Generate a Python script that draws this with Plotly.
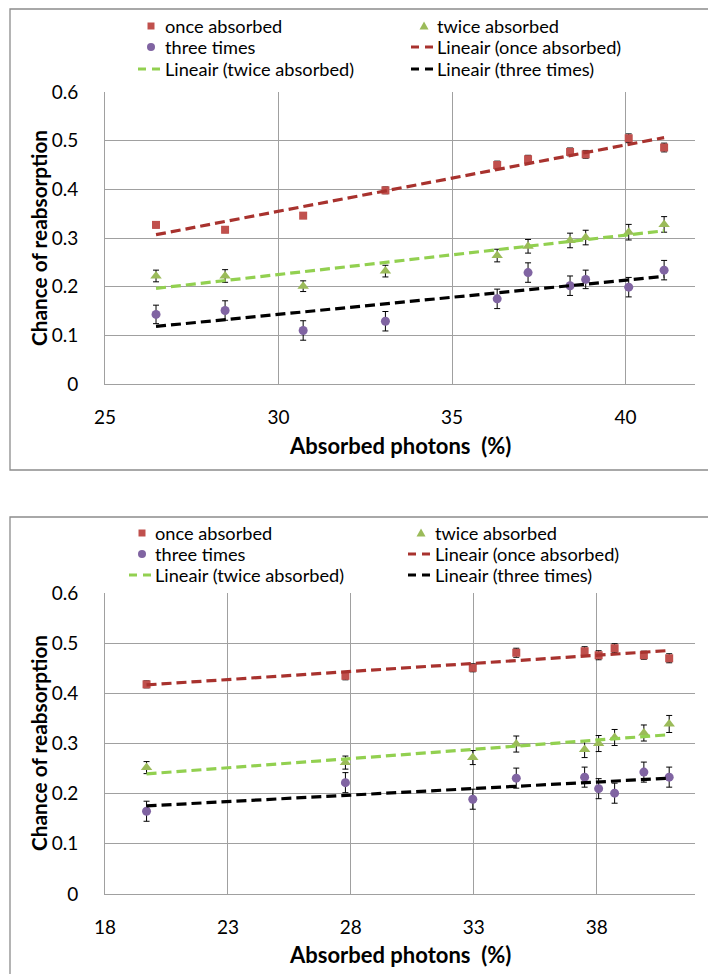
import numpy as np
import plotly.graph_objects as go

W, H = 708, 974

# ---- upper panel ----
x_top = [26.47, 28.46, 30.71, 33.08, 36.30, 37.19, 38.40, 38.85, 40.09, 41.11]
once_top = [0.327, 0.317, 0.346, 0.398, 0.450, 0.462, 0.477, 0.472, 0.505, 0.486]
once_top_err = [0.006, 0.006, 0.006, 0.007, 0.008, 0.008, 0.008, 0.008, 0.009, 0.009]
twice_top = [0.222, 0.222, 0.201, 0.232, 0.264, 0.283, 0.295, 0.301, 0.312, 0.328]
twice_top_err = [0.012, 0.013, 0.011, 0.012, 0.013, 0.014, 0.015, 0.015, 0.016, 0.016]
three_top = [0.143, 0.151, 0.110, 0.129, 0.175, 0.229, 0.202, 0.215, 0.199, 0.234]
three_top_err = [0.019, 0.020, 0.020, 0.020, 0.020, 0.020, 0.020, 0.019, 0.020, 0.020]

# ---- lower panel ----
x_bot = [19.69, 27.78, 32.96, 34.73, 37.51, 38.08, 38.73, 39.92, 40.95]
once_bot = [0.418, 0.435, 0.451, 0.481, 0.484, 0.476, 0.490, 0.476, 0.470]
once_bot_err = [0.007, 0.008, 0.008, 0.009, 0.009, 0.009, 0.009, 0.008, 0.009]
twice_bot = [0.252, 0.262, 0.272, 0.299, 0.288, 0.300, 0.312, 0.321, 0.339]
twice_bot_err = [0.012, 0.013, 0.014, 0.016, 0.016, 0.016, 0.016, 0.016, 0.017]
three_bot = [0.165, 0.222, 0.189, 0.231, 0.233, 0.210, 0.201, 0.243, 0.233]
three_bot_err = [0.020, 0.020, 0.020, 0.020, 0.020, 0.020, 0.020, 0.020, 0.020]

series_names = ["once absorbed", "twice absorbed", "three times"]
trend_names = ["Lineair (once absorbed)", "Lineair (twice absorbed)", "Lineair (three times)"]
marker_colors = ["#C0504D", "#9BBB59", "#8064A2"]
trend_colors = ["#A8322E", "#92D050", "#000000"]
symbols = ["square", "triangle-up", "circle"]
sizes = [8, 10, 9]

FONT = "Lato, 'Open Sans', sans-serif"
LEG_FS = 18.2
TICK_FS = 19
GRID = "#a0a0a0"


def px_x(p):
    return p / W


def px_y(p):
    return 1 - p / H


fig = go.Figure()


def add_panel(xs, ys_list, errs_list, xa, ya):
    for name, ys, errs, col, sym, sz in zip(series_names, ys_list, errs_list,
                                            marker_colors, symbols, sizes):
        fig.add_trace(go.Scatter(
            x=xs, y=ys, mode="markers", name=name, showlegend=False,
            marker=dict(symbol=sym, size=sz, color=col, line=dict(width=0)),
            error_y=dict(type="data", array=errs, color="black",
                         thickness=1, width=3),
            xaxis=xa, yaxis=ya,
        ))
    for name, ys, col in zip(trend_names, ys_list, trend_colors):
        slope, icpt = np.polyfit(xs, ys, 1)
        xl = [min(xs), max(xs)]
        fig.add_trace(go.Scatter(
            x=xl, y=[icpt + slope * v for v in xl], mode="lines", name=name,
            showlegend=False,
            line=dict(color=col, width=3.2, dash="10px,5px"),
            xaxis=xa, yaxis=ya,
        ))


add_panel(x_top, [once_top, twice_top, three_top],
          [once_top_err, twice_top_err, three_top_err], "x", "y")
add_panel(x_bot, [once_bot, twice_bot, three_bot],
          [once_bot_err, twice_bot_err, three_bot_err], "x2", "y2")

axis_common = dict(
    showgrid=True, gridcolor=GRID, gridwidth=1,
    showline=True, linecolor=GRID, linewidth=1,
    zeroline=False, ticks="", automargin=False,
    tickfont=dict(family=FONT, size=TICK_FS, color="#000"),
)

dom_x = [px_x(105), px_x(695)]

fig.update_layout(
    width=W, height=H,
    margin=dict(l=0, r=0, t=0, b=0),
    paper_bgcolor="white", plot_bgcolor="white",
    font=dict(family=FONT, size=LEG_FS, color="#000"),
    showlegend=False,
    xaxis=dict(domain=dom_x, range=[25, 42], tick0=25, dtick=5,
               anchor="y", ticklabelstandoff=16, **axis_common),
    yaxis=dict(domain=[px_y(384), px_y(92)], range=[0, 0.6001], dtick=0.1,
               anchor="x", ticklabelstandoff=22, **axis_common),
    xaxis2=dict(domain=dom_x, range=[18, 42], tick0=18, dtick=5,
                anchor="y2", ticklabelstandoff=16, **axis_common),
    yaxis2=dict(domain=[px_y(894), px_y(593)], range=[0, 0.6001], dtick=0.1,
                anchor="x2", ticklabelstandoff=22, **axis_common),
)

# chart frames
FRAME = "#8c8c8c"
fig.add_shape(type="rect", xref="paper", yref="paper",
              x0=px_x(10), x1=1.05, y0=px_y(470), y1=px_y(9),
              line=dict(color=FRAME, width=1.3), fillcolor="rgba(0,0,0,0)")
fig.add_shape(type="rect", xref="paper", yref="paper",
              x0=px_x(10), x1=1.05, y0=-0.05, y1=px_y(517),
              line=dict(color=FRAME, width=1.3), fillcolor="rgba(0,0,0,0)")


# legend key glyphs (pixel positions converted to paper units)
def key_square(cx, cy, col, s=7):
    fig.add_shape(type="rect", xref="paper", yref="paper",
                  x0=px_x(cx - s / 2), x1=px_x(cx + s / 2),
                  y0=px_y(cy + s / 2), y1=px_y(cy - s / 2),
                  line=dict(width=0), fillcolor=col)


def key_circle(cx, cy, col, s=8):
    fig.add_shape(type="circle", xref="paper", yref="paper",
                  x0=px_x(cx - s / 2), x1=px_x(cx + s / 2),
                  y0=px_y(cy + s / 2), y1=px_y(cy - s / 2),
                  line=dict(width=0), fillcolor=col)


def key_triangle(cx, cy, col, s=9):
    p = "M {} {} L {} {} L {} {} Z".format(
        px_x(cx - s / 2), px_y(cy + s * 0.4),
        px_x(cx + s / 2), px_y(cy + s * 0.4),
        px_x(cx), px_y(cy - s * 0.5))
    fig.add_shape(type="path", xref="paper", yref="paper", path=p,
                  line=dict(width=0), fillcolor=col)


def key_dash(cx, cy, col):
    for a, b in [(-11, -3), (3, 11)]:
        fig.add_shape(type="line", xref="paper", yref="paper",
                      x0=px_x(cx + a), x1=px_x(cx + b),
                      y0=px_y(cy), y1=px_y(cy),
                      line=dict(color=col, width=3))


def add_legend(col1_key, col1_text, col2_key, col2_text, rows):
    r1, r2, r3 = rows
    entries = [
        (col1_key, col1_text, r1, series_names[0], "square", marker_colors[0]),
        (col2_key, col2_text, r1, series_names[1], "triangle", marker_colors[1]),
        (col1_key, col1_text, r2, series_names[2], "circle", marker_colors[2]),
        (col2_key, col2_text, r2, trend_names[0], "dash", trend_colors[0]),
        (col1_key, col1_text, r3, trend_names[1], "dash", trend_colors[1]),
        (col2_key, col2_text, r3, trend_names[2], "dash", trend_colors[2]),
    ]
    for kx, tx, ry, label, kind, col in entries:
        if kind == "square":
            key_square(kx, ry, col)
        elif kind == "circle":
            key_circle(kx, ry, col)
        elif kind == "triangle":
            key_triangle(kx, ry, col)
        else:
            key_dash(kx - 2, ry, col)
        fig.add_annotation(text=label, xref="paper", yref="paper",
                           x=px_x(tx), y=px_y(ry), showarrow=False,
                           xanchor="left", yanchor="middle",
                           font=dict(family=FONT, size=LEG_FS, color="#000"))


add_legend(151, 163, 424, 435, (26, 47, 69))
add_legend(142, 153, 421, 433, (533, 554, 575))

# axis titles
for cx_y, cy_y, fs_x, fs_y in [(446, 238, 22, 20.8), (954, 743, 22, 20.8)]:
    fig.add_annotation(text="Absorbed photons  (%)", xref="paper", yref="paper",
                       x=px_x(400), y=px_y(cx_y), showarrow=False,
                       xanchor="center", yanchor="middle",
                       font=dict(family=FONT, size=fs_x, color="#000", weight="bold"))
    fig.add_annotation(text="Chance of reabsorption", xref="paper", yref="paper",
                       x=px_x(38), y=px_y(cy_y), showarrow=False, textangle=-90,
                       xanchor="center", yanchor="middle",
                       font=dict(family=FONT, size=fs_y, color="#000", weight="bold"))

fig.write_html("out.html")
